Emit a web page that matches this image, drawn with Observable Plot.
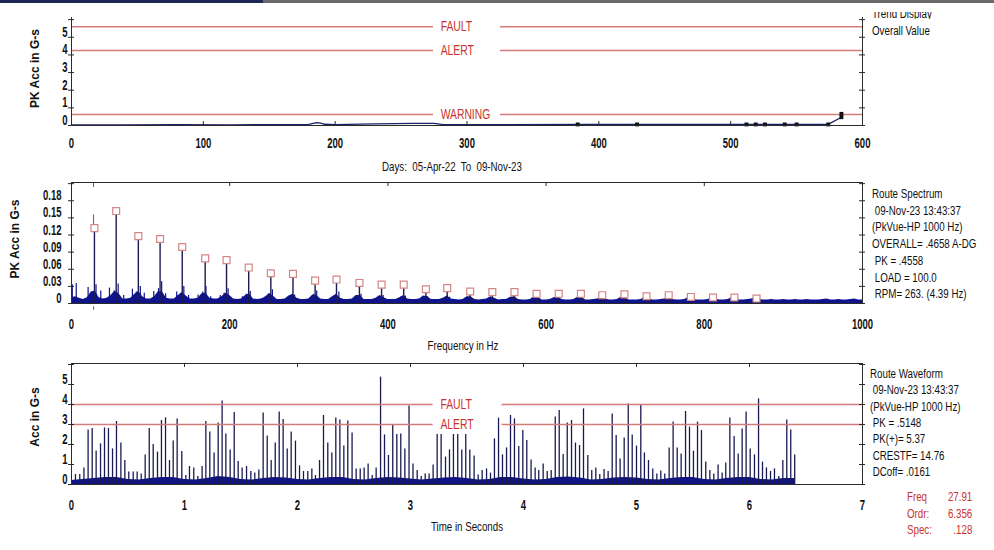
<!DOCTYPE html>
<html>
<head>
<meta charset="utf-8">
<script src="https://cdn.jsdelivr.net/npm/d3@7"></script>
<script src="https://cdn.jsdelivr.net/npm/@observablehq/plot@0.6"></script>
<style>
  html, body { margin: 0; padding: 0; background: #fff; }
  #root { position: relative; width: 994px; height: 550px; overflow: hidden; background: #fff;
          font-family: "Liberation Sans", Arial, sans-serif; }
  .panel { position: absolute; left: 0; }
  .note { position: absolute; font-size: 12.5px; color: #111; white-space: pre; line-height: 14px;
          transform: scaleX(0.78); transform-origin: left center; }
  .note.right { transform-origin: right center; text-align: right; }
  .red { color: #c8322e; }
  #bar1 { position: absolute; left: 0; top: 0; width: 263px; height: 3px; background: #1f2555; }
  #bar2 { position: absolute; left: 263px; top: 0; width: 731px; height: 3px; background: #6b6b6b; }
  #clipTrend { position: absolute; left: 872px; top: 12px; width: 110px; height: 7px; overflow: hidden; }
</style>
</head>
<body>
<div id="root">
  <div id="bar1"></div><div id="bar2"></div>
  <div class="panel" id="pA" style="top:0px"></div>
  <div class="panel" id="pB" style="top:175px"></div>
  <div class="panel" id="pC" style="top:355px"></div>
</div>
<script>
// ---------------- DATA ----------------
// Trend panel (overall value vs days)
const overallDays = [0, 40, 80, 120, 160, 180, 186, 189, 192, 200, 230, 260, 275, 282, 384, 429, 512, 519, 526, 541, 550, 574, 584, 584];
const overallVals = [0.04, 0.03, 0.05, 0.04, 0.05, 0.06, 0.16, 0.14, 0.07, 0.05, 0.09, 0.12, 0.12, 0.05, 0.06, 0.06, 0.06, 0.06, 0.06, 0.06, 0.06, 0.06, 0.47, 0.66];
const overallMarkerFromDay = 384;
const trendAlarmNames = ["FAULT", "ALERT", "WARNING"];
const trendAlarmVals = [5.6, 4.25, 0.62];
const dayTicks = [0, 100, 200, 300, 400, 500, 600];
const trendYTicks = [0, 1, 2, 3, 4, 5, 6];
const trendYLabels = ["0", "1", "2", "3", "4", "5"];

// Spectrum panel
const harmFreq = [29, 56.5, 84.5, 112, 140, 169, 196, 224, 252, 280, 308, 335, 364, 392, 420, 448, 475, 504, 532, 560, 588, 616, 644, 671, 699, 727, 755, 783, 811, 838, 866];
const harmAmp  = [0.132, 0.162, 0.118, 0.113, 0.099, 0.079, 0.076, 0.063, 0.053, 0.052, 0.040, 0.042, 0.036, 0.033, 0.033, 0.025, 0.027, 0.021, 0.020, 0.020, 0.017, 0.017, 0.017, 0.0145, 0.016, 0.0127, 0.0145, 0.0115, 0.0105, 0.0105, 0.0087];
const sideFreq = [1, 6, 21, 26, 31, 37, 48, 54, 59, 66, 77, 82, 87, 92, 104, 110, 114, 119, 133, 138, 142, 148, 160, 166, 170, 176, 188, 193, 198, 216, 221, 226, 245, 250, 254, 273, 278, 282, 302, 306, 310, 331, 338, 360, 366, 388, 394, 416, 422, 444, 450, 472, 478, 500, 505, 528, 533, 556, 561, 584, 589, 612, 617, 640, 645, 668, 673, 696, 724, 752, 779, 807, 835, 863, 890, 925, 948, 975];
const sideAmp  = [0.033, 0.035, 0.028, 0.020, 0.033, 0.022, 0.027, 0.022, 0.034, 0.014, 0.025, 0.020, 0.030, 0.018, 0.021, 0.026, 0.038, 0.017, 0.020, 0.018, 0.030, 0.014, 0.015, 0.020, 0.030, 0.012, 0.014, 0.018, 0.026, 0.012, 0.016, 0.021, 0.012, 0.017, 0.024, 0.010, 0.014, 0.015, 0.010, 0.016, 0.022, 0.012, 0.020, 0.014, 0.016, 0.012, 0.014, 0.011, 0.013, 0.010, 0.012, 0.009, 0.011, 0.010, 0.009, 0.009, 0.008, 0.010, 0.009, 0.009, 0.009, 0.009, 0.008, 0.008, 0.008, 0.009, 0.007, 0.008, 0.008, 0.007, 0.007, 0.007, 0.006, 0.006, 0.005, 0.005, 0.006, 0.005];
const spectrumStepHz = 5;
const floorAmp = [
  0.010,0.012,0.009,0.007,0.010,0.020,0.022,0.010,0.008,0.009,0.014,0.022,0.017,0.008,0.008,0.009,0.016,0.021,0.012,0.008,
  0.008,0.012,0.021,0.020,0.009,0.008,0.008,0.014,0.019,0.013,0.008,0.008,0.009,0.017,0.018,0.009,0.008,0.008,0.012,0.018,
  0.014,0.008,0.007,0.008,0.014,0.017,0.008,0.007,0.008,0.011,0.017,0.013,0.007,0.007,0.008,0.013,0.016,0.009,0.007,0.007,
  0.008,0.015,0.014,0.008,0.007,0.007,0.012,0.016,0.009,0.007,0.007,0.008,0.014,0.014,0.007,0.007,0.007,0.009,0.014,0.010,
  0.007,0.007,0.007,0.010,0.014,0.008,0.007,0.007,0.008,0.013,0.012,0.007,0.007,0.007,0.009,0.013,0.008,0.007,0.006,0.007,
  0.012,0.012,0.007,0.006,0.007,0.008,0.012,0.009,0.006,0.007,0.007,0.011,0.012,0.007,0.006,0.006,0.007,0.012,0.011,0.006,
  0.006,0.007,0.010,0.012,0.007,0.006,0.006,0.007,0.011,0.011,0.006,0.006,0.007,0.008,0.012,0.008,0.006,0.006,0.007,0.011,
  0.010,0.006,0.006,0.006,0.007,0.011,0.008,0.006,0.006,0.007,0.008,0.011,0.007,0.006,0.006,0.007,0.010,0.008,0.006,0.006,
  0.006,0.007,0.010,0.007,0.006,0.006,0.007,0.010,0.008,0.006,0.006,0.007,0.008,0.010,0.007,0.006,0.006,0.007,0.006,0.006,
  0.007,0.006,0.006,0.007,0.006,0.006,0.007,0.006,0.006,0.006,0.007,0.008,0.006,0.006,0.007,0.006,0.006,0.007,0.008,0.006,0.006
];
const cursorFreq = 27.91;
const freqTicks = [0, 200, 400, 600, 800, 1000];
const specYTicks = [0, 0.03, 0.06, 0.09, 0.12, 0.15, 0.18, 0.21];
const specYLabels = ["0", "0.03", "0.06", "0.09", "0.12", "0.15", "0.18"];

// Waveform panel
const waveT = [0.035,0.073,0.110,0.147,0.183,0.218,0.257,0.292,0.327,0.363,0.398,0.437,0.472,0.507,0.546,0.581,0.617,0.652,0.688,0.723,0.761,0.796,0.832,0.867,0.900,0.935,0.976,1.012,1.044,1.082,1.118,1.156,1.189,1.224,1.262,1.298,1.333,1.366,1.404,1.440,1.475,1.510,1.549,1.587,1.622,1.658,1.696,1.732,1.767,1.803,1.838,1.873,1.909,1.944,1.982,2.018,2.053,2.091,2.127,2.159,2.195,2.230,2.268,2.304,2.339,2.375,2.410,2.445,2.483,2.519,2.555,2.590,2.625,2.661,2.696,2.735,2.770,2.805,2.843,2.879,2.914,2.950,2.987,3.022,3.059,3.095,3.130,3.165,3.200,3.236,3.271,3.310,3.345,3.380,3.418,3.454,3.489,3.525,3.563,3.599,3.634,3.673,3.708,3.743,3.779,3.814,3.850,3.885,3.920,3.958,3.994,4.029,4.067,4.103,4.135,4.174,4.210,4.245,4.281,4.316,4.351,4.387,4.425,4.460,4.496,4.531,4.569,4.604,4.640,4.675,4.713,4.749,4.785,4.820,4.855,4.891,4.927,4.962,5.000,5.038,5.070,5.106,5.144,5.180,5.215,5.250,5.289,5.324,5.360,5.395,5.434,5.469,5.504,5.540,5.575,5.613,5.649,5.684,5.722,5.758,5.790,5.826,5.864,5.900,5.935,5.970,6.006,6.044,6.080,6.115,6.150,6.186,6.221,6.259,6.295,6.330,6.365,6.400];
const waveV = [0.50,0.50,0.82,2.73,2.80,1.67,2.03,2.83,2.80,1.78,3.15,2.07,1.20,0.62,0.62,0.62,0.53,1.48,2.80,2.00,1.62,3.20,3.33,1.20,2.17,3.28,1.65,0.45,0.90,0.83,0.40,0.90,3.15,2.62,1.58,3.08,4.17,2.53,1.73,3.60,1.15,0.83,0.90,0.65,0.58,0.73,3.57,2.42,1.20,2.08,3.62,3.25,1.78,2.62,2.17,0.93,0.65,0.65,0.78,0.45,1.20,3.45,2.08,1.58,3.33,3.23,1.92,3.17,2.57,0.78,0.78,0.82,1.03,0.45,0.83,5.37,2.48,1.45,2.95,2.50,2.53,1.78,3.92,1.03,0.70,0.40,0.53,0.53,0.98,2.50,2.50,1.37,1.73,2.50,2.50,1.73,2.50,1.73,1.42,0.48,0.70,0.78,0.57,2.28,3.32,1.48,1.83,3.45,3.28,1.90,2.70,2.20,1.23,0.83,0.70,1.03,0.65,0.70,3.37,3.70,1.50,3.07,3.20,2.07,1.95,3.78,1.45,0.70,0.82,0.50,0.75,0.65,3.53,2.45,1.28,2.32,4.03,2.48,1.92,3.95,1.58,1.20,0.78,0.53,0.67,0.53,1.83,3.12,1.83,1.53,3.65,2.87,1.67,3.12,2.70,1.12,0.70,0.53,0.98,0.57,1.07,3.33,2.40,1.53,2.78,3.62,1.78,1.48,4.28,1.12,0.83,0.65,0.78,0.40,1.20,3.23,2.73,1.48];
const waveStepS = 0.1;
const waveFloor = [0.20,0.25,0.30,0.35,0.35,0.25,0.23,0.30,0.35,0.35,0.25,0.23,0.30,0.40,0.35,0.25,0.23,0.30,0.35,0.33,0.25,0.23,0.30,0.35,0.35,0.25,0.23,0.30,0.35,0.33,0.27,0.23,0.27,0.33,0.35,0.30,0.23,0.25,0.35,0.35,0.27,0.23,0.25,0.35,0.37,0.33,0.23,0.25,0.33,0.35,0.33,0.25,0.23,0.30,0.35,0.35,0.25,0.23,0.30,0.35,0.35,0.25,0.23,0.30,0.30];
const waveAlarmNames = ["FAULT", "ALERT"];
const waveAlarmVals = [4.0, 3.0];
const timeTicks = [0, 1, 2, 3, 4, 5, 6, 7];
const waveYTicks = [0, 1, 2, 3, 4, 5, 6];
const waveYLabels = ["0", "1", "2", "3", "4", "5"];

// Side texts
const trendNotes = ["Overall Value"];
const specNotes = ["Route Spectrum", " 09-Nov-23 13:43:37", "(PkVue-HP 1000 Hz)", "OVERALL= .4658 A-DG", " PK = .4558", " LOAD = 100.0", " RPM= 263. (4.39 Hz)"];
const waveNotes = ["Route Waveform", " 09-Nov-23 13:43:37", "(PkVue-HP 1000 Hz)", " PK = .5148", " PK(+)= 5.37", " CRESTF= 14.76", " DCoff= .0161"];
const cursorLabels = ["Freq", "Ordr:", "Spec:"];
const cursorValues = ["27.91", "6.356", ".128"];

// ---------------- STYLE / LAYOUT ----------------
const FONT = '"Liberation Sans",Arial,sans-serif';
const AXIS = "#2a2a2a";
const TH_LINE = "#d47c7c";
const TH_TEXT = "#c8322e";
const NAVY = "#10148a";
const SPIKE = "#1a1a52";
const W = 994, ML = 71, MR = 132, FW = W - ML - MR;
const baseStyle = {fontFamily: FONT, fontSize: "13px", color: "#111", background: "transparent", overflow: "visible"};

function crossTicksY(ticks) {
  return [
    Plot.tickY(ticks, {y: d => d, insetLeft: -3, insetRight: FW - 3, stroke: AXIS}),
    Plot.tickY(ticks, {y: d => d, insetLeft: FW - 3, insetRight: -3, stroke: AXIS})
  ];
}
function yLabels(ticks, labels, dx) {
  return Plot.text(labels, {y: (d, i) => ticks[i], text: d => d, frameAnchor: "left", textAnchor: "end", lineAnchor: "middle", dx, dy: -5, fontWeight: "bold", fontSize: 14});
}
function xLabels(ticks, dy) {
  return Plot.text(ticks, {x: d => d, text: d => String(d), frameAnchor: "bottom", textAnchor: "middle", lineAnchor: "middle", dy, fontWeight: "bold", fontSize: 14});
}
function yTitle(text, dx, dy) {
  return Plot.text([text], {frameAnchor: "left", textAnchor: "middle", lineAnchor: "middle", rotate: -90, dx, dy, fontWeight: "bold", fontSize: 12});
}
function xTitle(text, dx, dy) {
  return Plot.text([text], {frameAnchor: "bottom", textAnchor: "middle", lineAnchor: "middle", dx, dy, fontSize: 12.5});
}
function alarmMarks(names, vals, x0, x1, gapA, gapB, labelX) {
  return [
    Plot.ruleY(vals, {y: d => d, x1: x0, x2: gapA, stroke: TH_LINE, strokeWidth: 1.5}),
    Plot.ruleY(vals, {y: d => d, x1: gapB, x2: x1, stroke: TH_LINE, strokeWidth: 1.5}),
    Plot.text(names, {x: labelX, y: (d, i) => vals[i], text: d => d, textAnchor: "start", lineAnchor: "middle", fill: TH_TEXT, fontSize: 14})
  ];
}
// condense horizontal text (the reference uses a narrow face)
function condense(svg) {
  svg.querySelectorAll("text").forEach(t => {
    const tr = t.getAttribute("transform") || "";
    if (tr.includes("rotate")) return;
    const g = t.parentNode;
    let s = 0.78;
    if (g.getAttribute("font-weight") === "bold") s = 0.68;
    if (g.getAttribute("fill") === TH_TEXT) s = 0.74;
    if (tr) {
      t.setAttribute("transform", tr + ` scale(${s},1)`);
    } else {
      const x = +(t.getAttribute("x") || 0), y = +(t.getAttribute("y") || 0);
      t.setAttribute("transform", `translate(${x},${y}) scale(${s},1) translate(${-x},${-y})`);
    }
  });
  return svg;
}

// ---------------- PANEL A : TREND ----------------
const trendData = overallDays.map((d, i) => ({day: d, v: overallVals[i]}));
const HA = 175, MTA = 17, MBA = 50;
const plotA = Plot.plot({
  width: W, height: HA, marginLeft: ML, marginRight: MR, marginTop: MTA, marginBottom: MBA,
  x: {domain: [0, 600], axis: null}, y: {domain: [0, 6.12], axis: null},
  style: baseStyle,
  marks: [
    ...alarmMarks(trendAlarmNames, trendAlarmVals, 0, 600, 274.6, 325.4, 280),
    Plot.line(trendData, {x: "day", y: "v", stroke: "#1c2068", strokeWidth: 1.3}),
    Plot.dot(trendData.filter(d => d.day >= overallMarkerFromDay), {x: "day", y: "v", symbol: "square", r: 2.2, fill: "#111", stroke: "none"}),
    Plot.ruleX([0, 600], {stroke: AXIS}),
    Plot.ruleY([0], {stroke: AXIS}),
    Plot.tickX(dayTicks, {x: d => d, insetTop: HA - MTA - MBA - 4, stroke: AXIS}),
    ...crossTicksY(trendYTicks),
    yLabels(trendYTicks, trendYLabels, -4),
    xLabels(dayTicks, 18),
    yTitle("PK Acc in G-s", -36, -3),
    xTitle("Days:  05-Apr-22  To  09-Nov-23", -15, 41)
  ]
});
document.getElementById("pA").appendChild(condense(plotA));

// ---------------- PANEL B : SPECTRUM ----------------
const harm = harmFreq.map((f, i) => ({f, a: harmAmp[i]}));
const side = sideFreq.map((f, i) => ({f, a: sideAmp[i]}));
const floorData = floorAmp.map((a, i) => ({f: i * spectrumStepHz, a}));
const HB = 180, MTB = 7, MBB = 52;
const plotB = Plot.plot({
  width: W, height: HB, marginLeft: ML, marginRight: MR, marginTop: MTB, marginBottom: MBB,
  x: {domain: [0, 1000], axis: null}, y: {domain: [0, 0.212], axis: null},
  style: baseStyle,
  marks: [
    Plot.areaY(floorData, {x: "f", y: "a", fill: NAVY}),
    Plot.ruleX(side, {x: "f", y1: 0, y2: "a", stroke: NAVY, strokeWidth: 1.2}),
    Plot.ruleX(harm, {x: "f", y1: 0, y2: "a", stroke: SPIKE, strokeWidth: 1.4}),
    Plot.ruleX([cursorFreq], {x: d => d, y1: harmAmp[0], y2: 0.155, stroke: TH_TEXT, strokeWidth: 1}),
    Plot.ruleX([cursorFreq], {x: d => d, y1: -0.006, y2: -0.012, stroke: TH_TEXT, strokeWidth: 1}),
    Plot.tickX([cursorFreq], {x: d => d, insetBottom: HB - MTB - MBB - 5, stroke: TH_TEXT}),
    Plot.dot(harm, {x: "f", y: "a", symbol: "square", r: 3.9, fill: "white", stroke: "#d58585", strokeWidth: 1.2}),
    Plot.frame({stroke: AXIS}),
    Plot.tickX(freqTicks.slice(1, -1), {x: d => d, insetBottom: HB - MTB - MBB - 4, stroke: AXIS}),
    ...crossTicksY(specYTicks),
    yLabels(specYTicks, specYLabels, -10),
    xLabels(freqTicks, 21),
    yTitle("PK Acc in G-s", -56, -4),
    xTitle("Frequency in Hz", -4, 42)
  ]
});
document.getElementById("pB").appendChild(condense(plotB));

// ---------------- PANEL C : WAVEFORM ----------------
const spikes = waveT.map((t, i) => ({t, v: waveV[i]}));
const wfFloor = waveFloor.map((v, i) => ({t: i * waveStepS, v}));
const HC = 195, MTC = 8, MBC = 66;
const plotC = Plot.plot({
  width: W, height: HC, marginLeft: ML, marginRight: MR, marginTop: MTC, marginBottom: MBC,
  x: {domain: [0, 7], axis: null}, y: {domain: [0, 6.05], axis: null},
  style: baseStyle,
  marks: [
    Plot.areaY(wfFloor, {x: "t", y: "v", fill: NAVY}),
    Plot.ruleX(spikes, {x: "t", y1: 0, y2: "v", stroke: SPIKE, strokeWidth: 1.3}),
    ...alarmMarks(waveAlarmNames, waveAlarmVals, 0, 7, 3.2, 3.81, 3.265),
    Plot.frame({stroke: AXIS}),
    Plot.tickX(timeTicks.slice(1, -1), {x: d => d, insetBottom: HC - MTC - MBC - 4, stroke: AXIS}),
    ...crossTicksY(waveYTicks),
    yLabels(waveYTicks, waveYLabels, -4),
    xLabels(timeTicks, 21),
    yTitle("Acc in G-s", -36, -7),
    xTitle("Time in Seconds", 0, 42)
  ]
});
document.getElementById("pC").appendChild(condense(plotC));

// ---------------- SIDE TEXTS ----------------
const root = document.getElementById("root");
function addNote(text, left, centerY, cls) {
  const d = document.createElement("div");
  d.className = "note" + (cls ? " " + cls : "");
  d.textContent = text;
  d.style.left = left + "px";
  d.style.top = (centerY - 7) + "px";
  root.appendChild(d);
  return d;
}
// partially cut "Trend Display" caption at the top (cut in the reference as well)
const clip = document.createElement("div");
clip.id = "clipTrend";
const td = document.createElement("div");
td.className = "note"; td.textContent = "Trend Display"; td.style.left = "0px"; td.style.top = "-5px";
clip.appendChild(td); root.appendChild(clip);
trendNotes.forEach((t, i) => addNote(t, 872, 31 + i * 16.7));
specNotes.forEach((t, i) => addNote(t, 872, 194 + i * 16.7));
waveNotes.forEach((t, i) => addNote(t, 870, 374 + i * 16.3));
cursorLabels.forEach((t, i) => addNote(t, 907, 497 + i * 16.5, "red"));
cursorValues.forEach((t, i) => {
  const d = addNote(t, 0, 497 + i * 16.5, "red right");
  d.style.left = "auto"; d.style.right = (994 - 972) + "px";
});
</script>
</body>
</html>
